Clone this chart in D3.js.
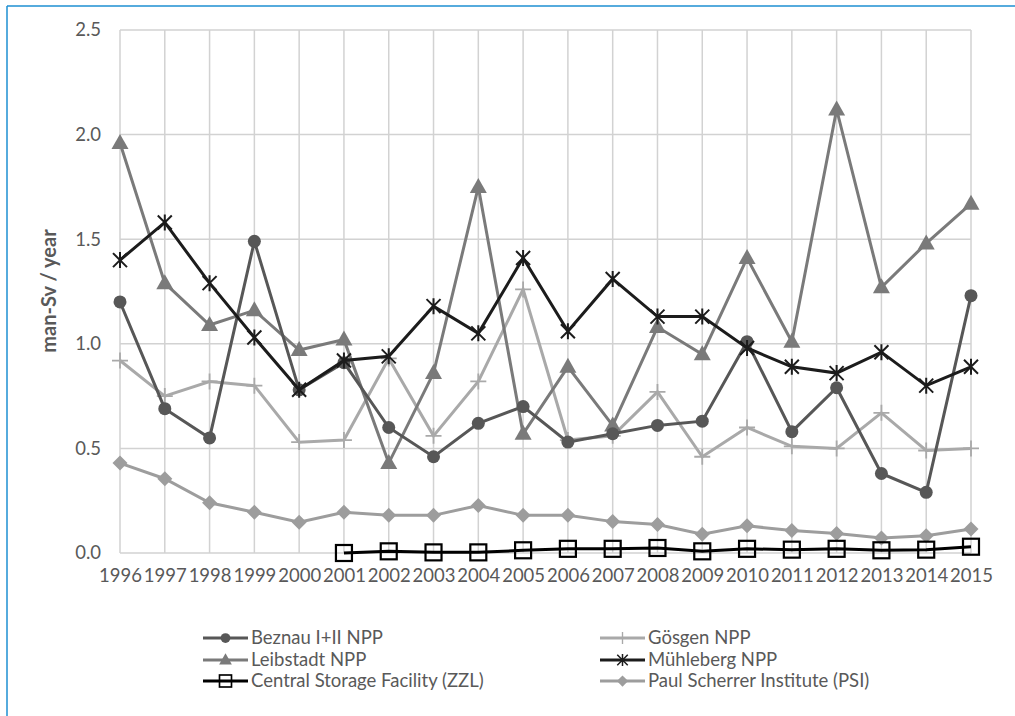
<!DOCTYPE html>
<html>
<head>
<meta charset="utf-8">
<script src="https://cdn.jsdelivr.net/npm/d3@7"></script>
<style>
  body { margin: 0; background: #fff; }
  text { font-family: Lato, "Open Sans", sans-serif; fill: #595959; }
</style>
</head>
<body>
<div id="chart"></div>
<script>
// données
const years = [1996,1997,1998,1999,2000,2001,2002,2003,2004,2005,2006,2007,2008,2009,2010,2011,2012,2013,2014,2015]
const beznau    = [1.20,0.69,0.55,1.49,0.78,0.91,0.60,0.46,0.62,0.70,0.53,0.57,0.61,0.63,1.01,0.58,0.79,0.38,0.29,1.23]
const gosgen    = [0.92,0.75,0.82,0.80,0.53,0.54,0.93,0.56,0.82,1.26,0.54,0.56,0.77,0.46,0.60,0.51,0.50,0.67,0.49,0.50]
const leibstadt = [1.96,1.29,1.09,1.16,0.97,1.02,0.43,0.86,1.75,0.57,0.89,0.61,1.08,0.95,1.41,1.01,2.12,1.27,1.48,1.67]
const muhleberg = [1.40,1.58,1.29,1.03,0.78,0.92,0.94,1.18,1.05,1.41,1.06,1.31,1.13,1.13,0.98,0.89,0.86,0.96,0.80,0.89]
const zzl       = [null,null,null,null,null,0.00,0.008,0.003,0.003,0.013,0.02,0.02,0.024,0.008,0.02,0.016,0.02,0.013,0.016,0.03]
const psi       = [0.43,0.355,0.24,0.195,0.147,0.195,0.18,0.18,0.227,0.18,0.18,0.15,0.136,0.09,0.13,0.107,0.093,0.072,0.083,0.115]
const yTicks = [0, 0.5, 1.0, 1.5, 2.0, 2.5]

const series = [
  {name: "Beznau I+II NPP", values: beznau, color: "#575757", marker: "circle"},
  {name: "Gösgen NPP", values: gosgen, color: "#a9a9a9", marker: "plus"},
  {name: "Leibstadt NPP", values: leibstadt, color: "#7a7a7a", marker: "triangle"},
  {name: "Mühleberg NPP", values: muhleberg, color: "#1c1c1c", marker: "star"},
  {name: "Central Storage Facility (ZZL)", values: zzl, color: "#000000", marker: "square"},
  {name: "Paul Scherrer Institute (PSI)", values: psi, color: "#9d9d9d", marker: "diamond"}
]
// ordre de dessin (le plus foncé au-dessus)
const drawOrder = [5, 1, 2, 0, 3, 4]

const width = 1015, height = 716
const svg = d3.select("#chart").append("svg")
  .attr("width", width).attr("height", height)

// cadre bleu
svg.append("line").attr("x1", 7).attr("x2", width).attr("y1", 6).attr("y2", 6)
  .attr("stroke", "#1e8fd2").attr("stroke-width", 1.5)
svg.append("line").attr("x1", 7).attr("x2", 7).attr("y1", 6).attr("y2", height)
  .attr("stroke", "#1e8fd2").attr("stroke-width", 1.5)

const x = d3.scalePoint().domain(years).range([120, 971])
const y = d3.scaleLinear().domain([0, 2.5]).range([553, 30])

// grille
svg.append("g").selectAll("line").data(yTicks).join("line")
  .attr("x1", 120).attr("x2", 971)
  .attr("y1", d => y(d)).attr("y2", d => y(d))
  .attr("stroke", "#d2d2d2").attr("stroke-width", 1.5)
svg.append("g").selectAll("line").data(years).join("line")
  .attr("x1", d => x(d)).attr("x2", d => x(d))
  .attr("y1", y(2.5)).attr("y2", y(0))
  .attr("stroke", "#d2d2d2").attr("stroke-width", 1.5)

// axes
const yAxis = svg.append("g").attr("transform", "translate(120,0)")
  .call(d3.axisLeft(y).tickValues(yTicks).tickFormat(d3.format(".1f")).tickSize(0).tickPadding(19))
yAxis.select(".domain").remove()
yAxis.selectAll("text").style("font-size", "18.5px").attr("fill", "#595959")

const xAxis = svg.append("g").attr("transform", "translate(0,553)")
  .call(d3.axisBottom(x).tickSize(0).tickPadding(16))
xAxis.select(".domain").remove()
xAxis.selectAll("text").style("font-size", "18.5px").attr("fill", "#595959")

svg.append("text")
  .attr("transform", "translate(56,291) rotate(-90)")
  .attr("text-anchor", "middle")
  .style("font-size", "20px").style("font-weight", "bold")
  .text("man-Sv / year")

// marqueurs
function marker(g, type, color) {
  if (type === "circle") {
    g.append("circle").attr("r", 6.5).attr("fill", color)
  } else if (type === "triangle") {
    g.append("path").attr("d", "M0,-9 L8.5,6 L-8.5,6 Z").attr("fill", color)
  } else if (type === "diamond") {
    g.append("path").attr("d", "M0,-7.5 L7.5,0 L0,7.5 L-7.5,0 Z").attr("fill", color)
  } else if (type === "square") {
    g.append("rect").attr("x", -8).attr("y", -8).attr("width", 16).attr("height", 16)
      .attr("fill", "none").attr("stroke", color).attr("stroke-width", 2.2)
  } else if (type === "plus") {
    g.append("path").attr("d", "M-8,0 H8 M0,-8 V8").attr("stroke", color).attr("stroke-width", 1.8)
  } else if (type === "star") {
    g.append("path").attr("d", "M-7,-7 L7,7 M-7,7 L7,-7 M0,-8 V8")
      .attr("stroke", color).attr("stroke-width", 2)
  }
}

const line = d3.line()
  .defined(d => d.v !== null)
  .x(d => x(d.year)).y(d => y(d.v))

drawOrder.forEach(i => {
  const s = series[i]
  const pts = years.map((yr, j) => ({year: yr, v: s.values[j]}))
  svg.append("path").datum(pts)
    .attr("d", line)
    .attr("fill", "none")
    .attr("stroke", s.color)
    .attr("stroke-width", 3)
  pts.filter(d => d.v !== null).forEach(d => {
    const g = svg.append("g").attr("transform", `translate(${x(d.year)},${y(d.v)})`)
    marker(g, s.marker, s.color)
  })
})

// légende
const legendCols = [203, 600]
const legendRows = [638, 660, 681]
series.forEach((s, i) => {
  const lx = legendCols[i % 2], ly = legendRows[Math.floor(i / 2)]
  const g = svg.append("g").attr("transform", `translate(${lx},${ly})`)
  g.append("line").attr("x1", 0).attr("x2", 45).attr("y1", 0).attr("y2", 0)
    .attr("stroke", s.color).attr("stroke-width", 3)
  const m = g.append("g").attr("transform", "translate(22.5,0) scale(0.75)")
  marker(m, s.marker, s.color)
  g.append("text").attr("x", 48).attr("y", 0).attr("dy", "0.35em")
    .style("font-size", "18.5px")
    .text(s.name)
})
</script>
</body>
</html>
